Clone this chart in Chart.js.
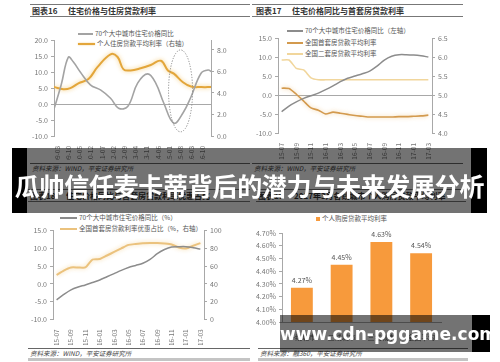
<!DOCTYPE html>
<html>
<head>
<meta charset="utf-8">
<script src="https://cdn.jsdelivr.net/npm/chart.js@4.4.1/dist/chart.umd.min.js"></script>
<style>
  body { margin: 0; background: #fff; }
  #wrap { position: relative; width: 500px; height: 362px; overflow: hidden; background: #fff; font-family: "Noto Sans CJK SC", sans-serif; }
  canvas { position: absolute; }
  .title { position: absolute; height: 11px; border-top: 1px solid #777; border-bottom: 1px solid #777; font-size: 8px; font-weight: bold; color: #333; line-height: 11px; white-space: nowrap; }
  .title span { position: absolute; top: 0; }
  .src { position: absolute; border-top: 1px solid #666; font-size: 6.5px; font-style: italic; color: #444; line-height: 9px; white-space: nowrap; padding-left: 2px; }
  .leg { position: absolute; font-size: 6.5px; color: #555; white-space: nowrap; line-height: 8px; }
  .leg i { display: inline-block; vertical-align: middle; margin-right: 2px; }
  .band { position: absolute; }
</style>
</head>
<body>
<div id="wrap">
  <div class="title" style="left:30px;top:4px;width:220px"><span style="left:2px">图表16</span><span style="left:38px">住宅价格与住房贷款利率</span></div>
  <div class="title" style="left:252px;top:4px;width:211px"><span style="left:4px">图表17</span><span style="left:40px">住宅价格同比与首套房贷款利率</span></div>
  <div class="title" style="left:28px;top:189px;width:222px"><span style="left:2px">图表18</span><span style="left:38px">住宅价格同比与首套房贷款利率优惠占比</span></div>
  <div class="title" style="left:256px;top:189px;width:210px"><span style="left:2px">图表19</span><span style="left:38px">2017年3月各线城市个人购房贷款平均利率</span></div>

  <div class="leg" style="left:78px;top:29px"><i style="width:15px;height:1.5px;background:#a3a3a3"></i>70个大中城市住宅价格同比</div>
  <div class="leg" style="left:78px;top:39px"><i style="width:17px;height:2.5px;background:#e3a63b;box-shadow:0 0 2px #f3cf8a"></i>个人住房贷款平均利率（右轴）</div>

  <div class="leg" style="left:287px;top:26px"><i style="width:16px;height:1.5px;background:#8c8c8c"></i>70个大中城市住宅价格同比（左轴）</div>
  <div class="leg" style="left:287px;top:38px"><i style="width:16px;height:2px;background:#d39a4e"></i>全国首套房贷款平均利率</div>
  <div class="leg" style="left:287px;top:49px"><i style="width:16px;height:2px;background:#f1d69c"></i>全国二套房贷款平均利率</div>

  <div class="leg" style="left:60px;top:213px"><i style="width:17px;height:1.5px;background:#8c8c8c"></i>70个大中城市住宅价格同比（%）</div>
  <div class="leg" style="left:60px;top:224px"><i style="width:17px;height:2px;background:#ebc27d"></i>全国首套房贷款利率优惠占比（%，右轴）</div>

  <div class="leg" style="left:316px;top:214px"><i style="width:4px;height:4px;background:#f79a3c"></i>个人购房贷款平均利率</div>

  <canvas id="c1" width="220" height="140" style="left:20px;top:20px"></canvas>
  <canvas id="c2" width="230" height="140" style="left:250px;top:20px"></canvas>
  <canvas id="c3" width="220" height="130" style="left:20px;top:215px"></canvas>
  <canvas id="c4" width="200" height="120" style="left:250px;top:225px"></canvas>

  <div class="src" style="left:30px;top:163px;width:218px">资料来源：WIND，平安证券研究所</div>
  <div class="src" style="left:252px;top:163px;width:209px">资料来源：WIND，平安证券研究所</div>
  <div class="src" style="left:28px;top:348px;width:220px;border-bottom:3px solid #c4c4c4">资料来源：WIND，平安证券研究所</div>
  <div class="src" style="left:258px;top:348px;width:208px;border-bottom:3px solid #c4c4c4">资料来源：融360，平安证券研究所</div>

  <div class="band" style="left:12px;top:148px;width:15px;height:65px;background:#000"></div>
  <div class="band" style="left:471px;top:148px;width:16px;height:65px;background:#000"></div>
  <div class="band" style="left:12px;top:148px;width:475px;height:65px;background:rgba(0,0,0,0.55)"></div>
  <div class="band" style="left:12px;top:171px;width:475px;text-align:center;color:#fff;font-size:25px;font-weight:bold;line-height:28px;white-space:nowrap;letter-spacing:-0.3px">瓜帅信任麦卡蒂背后的潜力与未来发展分析</div>

  <div class="band" style="left:472px;top:315px;width:18px;height:37px;background:#000"></div>
  <div class="band" style="left:280px;top:315px;width:210px;height:37px;background:rgba(0,0,0,0.55)"></div>
  <div class="band" style="left:280px;top:322px;width:206px;text-align:center;color:#fff;font-family:'DejaVu Sans',sans-serif;font-size:17px;font-weight:bold;line-height:24px;white-space:nowrap">www.cdn-pggame.com</div>
</div>

<script>
// chart 16: month index counted from 2009-01
const c1TickMonths = [2, 9, 16, 23, 30, 37, 44, 51, 58, 65, 72, 79, 86, 93];
const c1TickLabels = ["09-03", "09-10", "10-05", "10-12", "11-07", "12-02", "12-09",
  "13-04", "13-11", "14-06", "15-01", "15-08", "16-03", "16-10"];
const c1PriceMonths = [0, 4.5, 8.9, 12, 16.4, 22.7, 29, 35.3, 40.3, 46, 52.2, 58.5, 63.5, 68.5, 74.8, 80.5, 85.5, 91.8, 96.2, 98.6];
const c1PriceYoY = [-1.6, 6, 14.6, 13.2, 10, 6, 4.4, 1.8, -1.3, -0.8, 6.5, 9.4, 6.5, 0.3, -6, -2.8, 2.2, 9.6, 10.6, 10];
const c1RateMonths = [0, 5.8, 10.2, 15.2, 21.5, 27.1, 35.3, 39.7, 43.4, 47.8, 54.1, 60.4, 66.7, 71.1, 74.8, 80.5, 85.5, 91.8, 98.6];
const c1LoanRate = [4.55, 4.35, 4.45, 4.9, 5.3, 6.4, 7.6, 7.35, 6.2, 6.1, 6.3, 6.6, 7.0, 6.1, 5.8, 5.0, 4.6, 4.55, 4.55];
const c1Ring = { x: 79, y: 4.1, rx: 7.5, ry: 12.8 };

// charts 17 and 18
const months1503 = ["15-07", "15-08", "15-09", "15-10", "15-11", "15-12", "16-01", "16-02", "16-03", "16-04",
  "16-05", "16-06", "16-07", "16-08", "16-09", "16-10", "16-11", "16-12", "17-01", "17-02", "17-03"];
const c2PriceYoY = [-4.4, -2.9, -1.8, -0.9, -0.2, 0.5, 1.4, 2.4, 3.5, 4.4, 5.0, 5.6, 6.3, 7.6, 9.2, 10.2, 10.6, 10.6, 10.5, 10.3, 10.0];
const c2FirstRate = [5.18, 5.17, 5.02, 4.84, 4.66, 4.6, 4.5, 4.55, 4.52, 4.49, 4.46, 4.44, 4.42, 4.42, 4.42, 4.42, 4.43, 4.43, 4.44, 4.45, 4.47];
const c2SecondRate = [5.92, 5.92, 5.7, 5.66, 5.45, 5.4, 5.4, 5.4, 5.4, 5.4, 5.4, 5.4, 5.4, 5.4, 5.4, 5.4, 5.4, 5.4, 5.4, 5.4, 5.4];
const c3PriceYoY = [-4.5, -3.0, -1.7, -0.9, -0.3, 0.4, 1.1, 2.0, 2.9, 3.8, 4.6, 5.2, 5.8, 6.9, 8.5, 9.7, 10.4, 10.5, 10.5, 10.2, 9.8];
const c3DiscountShare = [50, 55, 58.5, 58.5, 58.5, 67.5, 68, 72, 76, 80, 84, 85, 85.8, 86, 86, 85.5, 84.5, 81, 80, 83, 86];

// chart 19
const c4Cities = ["一线城市", "二线城市", "三线城市", "全国平均"];
const c4Rates = [4.27, 4.45, 4.63, 4.54];

Chart.defaults.font.family = '"Noto Sans CJK SC", sans-serif';
Chart.defaults.font.size = 7;
Chart.defaults.color = "#666";
Chart.defaults.animation = false;
Chart.defaults.responsive = false;
Chart.defaults.plugins.legend.display = false;
Chart.defaults.plugins.tooltip.enabled = false;

const AXIS = "#a8a8a8";
const fixW = (w) => (s) => { s.width = w; s.paddingTop = 0; s.paddingBottom = 0; };
const fixH = (h) => (s) => { s.height = h; s.paddingLeft = 0; s.paddingRight = 0; };
const zeroGrid = (ctx) => (ctx.tick && ctx.tick.value === 0 ? AXIS : "rgba(0,0,0,0)");

const glow = {
  id: "glow",
  beforeDatasetDraw(chart, args) {
    const g = chart.data.datasets[args.index].glow;
    if (!g) return;
    chart.ctx.save();
    chart.ctx.shadowColor = g;
    chart.ctx.shadowBlur = 4;
  },
  afterDatasetDraw(chart, args) {
    if (chart.data.datasets[args.index].glow) chart.ctx.restore();
  },
};

const ring = {
  id: "ring",
  afterDatasetsDraw(chart) {
    const { ctx, scales: { x, y } } = chart;
    const cx = x.getPixelForValue(c1Ring.x);
    const cy = y.getPixelForValue(c1Ring.y);
    const rx = Math.abs(x.getPixelForValue(c1Ring.x + c1Ring.rx) - cx);
    const ry = Math.abs(y.getPixelForValue(c1Ring.y + c1Ring.ry) - cy);
    ctx.save();
    ctx.setLineDash([1.2, 1.5]);
    ctx.strokeStyle = "#8a8a8a";
    ctx.lineWidth = 1;
    ctx.beginPath();
    ctx.ellipse(cx, cy, rx, ry, 0, 0, Math.PI * 2);
    ctx.stroke();
    ctx.restore();
  },
};

const barLabels = {
  id: "barLabels",
  afterDatasetsDraw(chart) {
    const { ctx } = chart;
    const meta = chart.getDatasetMeta(0);
    ctx.save();
    ctx.font = '7px "Noto Sans CJK SC", sans-serif';
    ctx.fillStyle = "#555";
    ctx.textAlign = "center";
    ctx.textBaseline = "bottom";
    meta.data.forEach((bar, i) => {
      ctx.fillText(c4Rates[i].toFixed(2) + "%", bar.x, bar.y - 4);
    });
    ctx.restore();
  },
};

const yAxis = (pos, min, max, step, w, fmt, extra) => Object.assign({
  position: pos, min, max,
  ticks: { stepSize: step, padding: 3, callback: fmt, color: "#777" },
  grid: { drawOnChartArea: false, tickLength: 3, tickColor: AXIS, color: AXIS },
  border: { color: AXIS },
  afterFit: fixW(w),
}, extra || {});

const rotX = { maxRotation: 90, minRotation: 90, autoSkip: false, font: { size: 6.5 }, color: "#777", padding: 2 };

// chart 16
new Chart(document.getElementById("c1"), {
  type: "line",
  data: {
    datasets: [
      {
        data: c1PriceMonths.map((m, i) => ({ x: m, y: c1PriceYoY[i] })),
        borderColor: "#a3a3a3", borderWidth: 1.6, pointRadius: 0, tension: 0.4, yAxisID: "y",
      },
      {
        data: c1RateMonths.map((m, i) => ({ x: m, y: c1LoanRate[i] })),
        borderColor: "#e3a63b", borderWidth: 2, pointRadius: 0, tension: 0.4, yAxisID: "y1",
        glow: "rgba(244,200,110,0.9)",
      },
    ],
  },
  options: {
    layout: { padding: { top: 20 } },
    scales: {
      x: {
        type: "linear", min: 0, max: 98,
        afterBuildTicks: (s) => { s.ticks = c1TickMonths.map((v) => ({ value: v })); },
        ticks: Object.assign({}, rotX, { callback: (v) => c1TickLabels[c1TickMonths.indexOf(v)] }),
        grid: { display: false }, border: { display: false },
        afterFit: fixH(24),
      },
      y: yAxis("left", -10, 20, 5, 34, (v) => v.toFixed(1), {
        grid: { drawOnChartArea: true, color: zeroGrid, tickLength: 3, tickColor: AXIS },
      }),
      y1: yAxis("right", 0, 8.93, 2, 29, (v) => v.toFixed(1), {
        afterBuildTicks: (s) => { s.ticks = [0, 2, 4, 6, 8].map((v) => ({ value: v })); },
      }),
    },
  },
  plugins: [glow, ring],
});

// chart 17
new Chart(document.getElementById("c2"), {
  type: "line",
  data: {
    labels: months1503,
    datasets: [
      { data: c2PriceYoY, borderColor: "#8c8c8c", borderWidth: 1.5, pointRadius: 0, tension: 0.3, yAxisID: "y" },
      { data: c2FirstRate, borderColor: "#d39a4e", borderWidth: 1.6, pointRadius: 0, tension: 0.2, yAxisID: "y1", glow: "rgba(240,200,140,0.8)" },
      { data: c2SecondRate, borderColor: "#f1d69c", borderWidth: 1.6, pointRadius: 0, tension: 0.2, yAxisID: "y1" },
    ],
  },
  options: {
    layout: { padding: { top: 18 } },
    scales: {
      x: {
        offset: true,
        ticks: Object.assign({}, rotX, { callback: (v, i) => (i % 2 === 0 ? months1503[i] : "") }),
        grid: { display: false }, border: { display: false },
        afterFit: fixH(27),
      },
      y: yAxis("left", -10, 15, 5, 28, (v) => v.toFixed(1), {
        grid: { drawOnChartArea: true, color: zeroGrid, tickLength: 3, tickColor: AXIS },
      }),
      y1: yAxis("right", 4, 6.5, 0.5, 48, (v) => v.toFixed(1)),
    },
  },
  plugins: [glow],
});

// chart 18
new Chart(document.getElementById("c3"), {
  type: "line",
  data: {
    labels: months1503,
    datasets: [
      { data: c3PriceYoY, borderColor: "#8c8c8c", borderWidth: 1.5, pointRadius: 0, tension: 0.3, yAxisID: "y" },
      { data: c3DiscountShare, borderColor: "#ebc27d", borderWidth: 2, pointRadius: 0, tension: 0.2, yAxisID: "y1", glow: "rgba(245,215,160,0.9)" },
    ],
  },
  options: {
    layout: { padding: { top: 15.7 } },
    scales: {
      x: {
        offset: true,
        ticks: Object.assign({}, rotX, { callback: (v, i) => (i % 2 === 0 ? months1503[i] : "") }),
        grid: { display: false }, border: { display: false },
        afterFit: fixH(25.7),
      },
      y: yAxis("left", -10, 15, 5, 33, (v) => v.toFixed(1)),
      y1: yAxis("right", 0, 100, 20, 36, (v) => v.toFixed(0)),
    },
  },
  plugins: [glow],
});

// chart 19
new Chart(document.getElementById("c4"), {
  type: "bar",
  data: {
    labels: c4Cities,
    datasets: [{ data: c4Rates, backgroundColor: "#f79a3c", barPercentage: 0.55, categoryPercentage: 1 }],
  },
  options: {
    layout: { padding: { top: 8, right: 9 } },
    scales: {
      x: {
        ticks: { color: "#555", font: { size: 7 }, padding: 3 },
        grid: { display: false }, border: { color: AXIS },
        afterFit: fixH(23),
      },
      y: yAxis("left", 4.0, 4.7, 0.1, 32, (v) => v.toFixed(2) + "%"),
    },
  },
  plugins: [barLabels],
});
</script>
</body>
</html>
